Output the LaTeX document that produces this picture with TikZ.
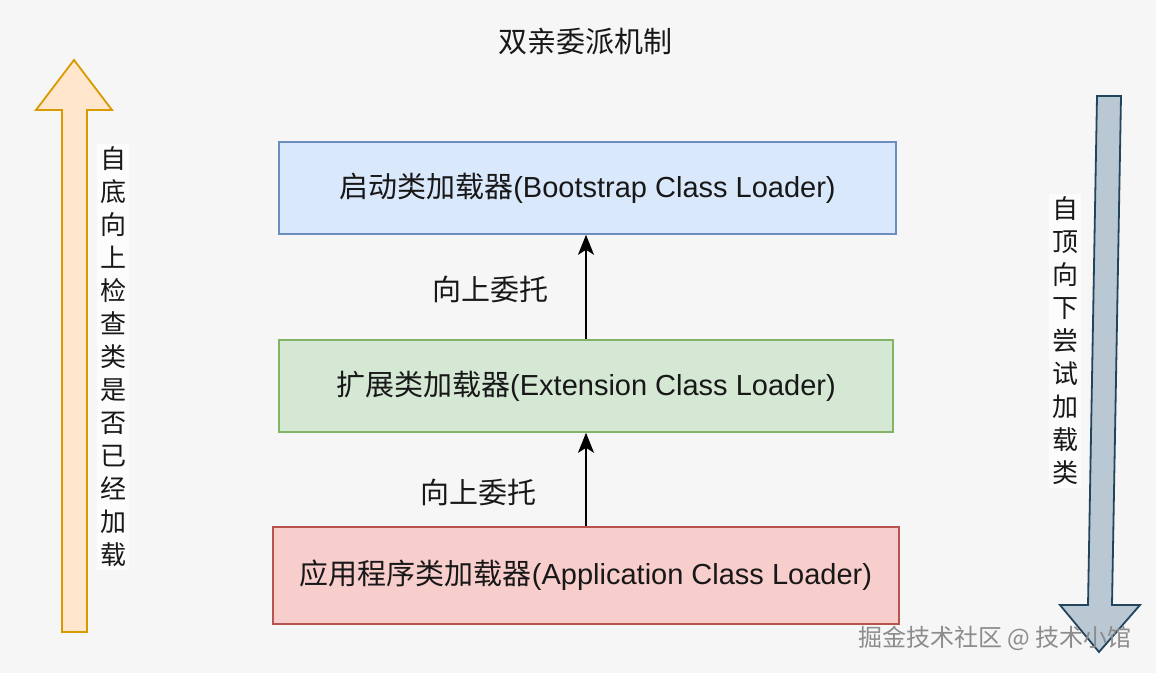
\documentclass[tikz,border=0pt]{standalone}
\usepackage{fontspec}
\setmainfont{Liberation Sans}
\newfontfamily\cjk{Noto Sans CJK SC}
\usetikzlibrary{arrows.meta,positioning}
\definecolor{pageGrey}{RGB}{246,246,246}
\definecolor{inkBlack}{RGB}{24,24,24}
\definecolor{bootBlue}{RGB}{218,232,252}
\definecolor{bootLine}{RGB}{108,142,191}
\definecolor{extGreen}{RGB}{213,232,212}
\definecolor{extLine}{RGB}{130,179,102}
\definecolor{appRed}{RGB}{248,206,204}
\definecolor{appLine}{RGB}{184,84,80}
\definecolor{upFill}{RGB}{255,230,204}
\definecolor{upLine}{RGB}{215,155,0}
\definecolor{downFill}{RGB}{186,200,211}
\definecolor{downLine}{RGB}{35,68,93}

\begin{document}
\begin{tikzpicture}[
      x=0.5pt,y=-0.5pt,
      font=\fontsize{14.5}{17}\selectfont,
      text=inkBlack,
      >={Stealth[length=10pt,width=8pt,inset=2.5pt]},
      ldr/.style={rectangle,draw=bootLine,fill=bootBlue,line width=0.8pt,
                  minimum width=308.5pt,minimum height=46pt,inner sep=0pt},
      ext/.style={ldr,draw=extLine,fill=extGreen,minimum width=307pt},
      app/.style={ldr,draw=appLine,fill=appRed,minimum width=313pt,minimum height=48.5pt},
      lbl/.style={font=\cjk\fontsize{14.5}{17}\selectfont},
      vtxt/.style={align=center,inner sep=1.5pt,fill=white!70!pageGrey,
                   font=\cjk\fontsize{13}{16.5}\selectfont},
      blk/.style={line width=0.9pt,line join=miter},
      ar/.style={->,black,line width=0.9pt}]

    \fill[pageGrey] (0,0) rectangle (1156,673);
    \useasboundingbox (0,0) rectangle (1156,673);

    % ---------- title ----------
    \node[lbl] (title) at (585,42) {双亲委派机制};

    % ---------- three loaders ----------
    \node[ldr] (boot) at (587.5,188) {{\cjk 启动类加载器}(Bootstrap Class Loader)};
    \node[ext] (ext)  at (586,386)   {{\cjk 扩展类加载器}(Extension Class Loader)};
    \node[app] (app)  at (586,575.5) {{\cjk 应用程序类加载器}(Application Class Loader)};
    \draw[ar] (ext.north) -- (ext.north |- boot.south);
    \draw[ar] (app.north) -- (ext.south);
    \node[lbl] (dlgA) at (490,289) {向上委托};
    \node[lbl] (dlgB) at (478,492) {向上委托};

    % ---------- side arrows ----------
    \draw[blk,draw=upLine,fill=upFill] (74,60) -- (112,110) -- (87,110) -- (87,632)
      -- (62,632) -- (62,110) -- (36,110) -- cycle;
    \draw[blk,draw=downLine,fill=downFill] (1097,96) -- (1121,96) -- (1112,605)
      -- (1140,605) -- (1099,652) -- (1060,605) -- (1088,605) -- cycle;
    \node[vtxt] (upTxt) at (113,357)
      {自\\底\\向\\上\\检\\查\\类\\是\\否\\已\\经\\加\\载};
    \node[vtxt] (downTxt) at (1065,341)
      {自\\顶\\向\\下\\尝\\试\\加\\载\\类};

    % ---------- watermark ----------
    \node[font=\cjk\fontsize{12}{14}\selectfont,text=black!45] (mark) at (995,638)
      {掘金技术社区 @ 技术小馆};
  \end{tikzpicture}
\end{document}
